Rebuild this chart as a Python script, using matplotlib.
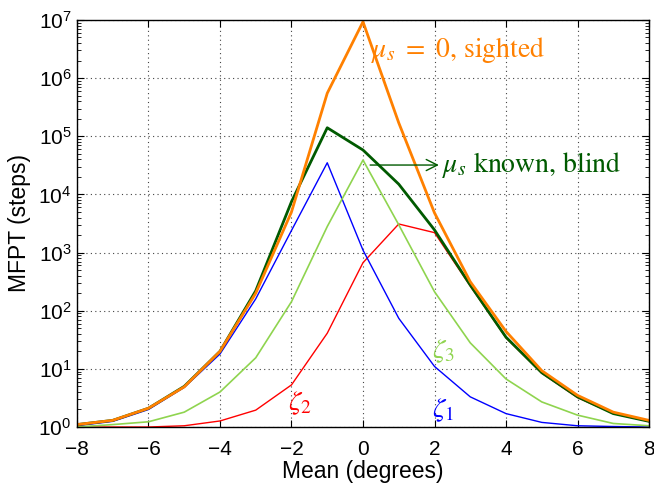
import matplotlib
matplotlib.use("Agg")
import matplotlib.pyplot as plt
from matplotlib.ticker import FixedLocator, LogFormatterSciNotation, NullFormatter

plt.rcParams["font.family"] = ["Liberation Sans", "DejaVu Sans"]
plt.rcParams["mathtext.fontset"] = "stix"

mean_deg = [-8, -7, -6, -5, -4, -3, -2, -1, 0, 1, 2, 3, 4, 5, 6, 7, 8]

# mu_s = 0, sighted
sighted = [1.1, 1.3, 2.1, 4.9, 20, 200, 5000, 5.5e5, 9.3e6, 1.7e5, 4800, 315, 44, 9.3, 3.5, 1.8, 1.3]
# mu_s known, blind
known_blind = [1.1, 1.3, 2.1, 5.0, 20, 220, 7500, 1.4e5, 5.8e4, 1.5e4, 2450, 276, 35, 8.6, 3.3, 1.7, 1.25]
zeta1 = [1.05, 1.25, 2.0, 4.8, 18, 160, 2400, 3.5e4, 1100, 74, 11, 3.3, 1.7, 1.2, 1.05, 1.02, 1.0]
zeta2 = [1.0, 1.0, 1.0, 1.05, 1.27, 1.95, 5.3, 41, 670, 3100, 2200, 265, 34, 8.4, 3.2, 1.7, 1.25]
zeta3 = [1.0, 1.1, 1.23, 1.8, 4.0, 15.5, 143, 2800, 3.9e4, 3000, 212, 28, 6.7, 2.7, 1.6, 1.15, 1.05]

x_ticks = [-8, -6, -4, -2, 0, 2, 4, 6, 8]
y_decades = [0, 1, 2, 3, 4, 5, 6, 7]

fig = plt.figure(figsize=(6.54, 4.87), dpi=100)
ax = fig.add_axes([0.1177, 0.1232, 0.8747, 0.8358])

ax.plot(mean_deg, zeta2, color="#ff0000", lw=1.0)
ax.plot(mean_deg, zeta1, color="#0000ff", lw=1.0)
ax.plot(mean_deg, zeta3, color="#8fd44f", lw=1.2)
ax.plot(mean_deg, known_blind, color="#005a00", lw=2.0)
ax.plot(mean_deg, sighted, color="#ff8000", lw=2.0)

ax.set_yscale("log")
ax.set_xlim(-8, 8)
ax.set_ylim(1, 1e7)
ax.set_xticks(x_ticks)
ax.yaxis.set_major_locator(FixedLocator([10.0 ** d for d in y_decades]))
ax.yaxis.set_major_formatter(LogFormatterSciNotation())
minors = [m * 10.0 ** d for d in y_decades[:-1] for m in range(2, 10)]
ax.yaxis.set_minor_locator(FixedLocator(minors))
ax.yaxis.set_minor_formatter(NullFormatter())
ax.tick_params(which="both", direction="in", top=True, right=True)
ax.tick_params(axis="x", labelsize=15, pad=9)
ax.tick_params(axis="y", labelsize=15, pad=4)
ax.tick_params(which="major", length=5)
ax.tick_params(which="minor", length=3)
ax.grid(True, which="major", linestyle=(0, (1, 3)), color="#444444", lw=0.8)
for sp in ax.spines.values():
    sp.set_linewidth(1.0)

ax.set_xlabel("Mean (degrees)", fontsize=16.5, labelpad=1)
ax.set_ylabel("MFPT (steps)", fontsize=16.5, labelpad=5)

serif = dict(family=["STIXGeneral", "Liberation Serif"], fontsize=20)
ax.text(0.22, 3.0e6, r"$\mu_s\ =\ 0$, sighted", color="#ff8000", va="center", ha="left", **serif)
ax.annotate(r"$\mu_s$ known, blind", xy=(0.2, 3.2e4), xytext=(2.2, 3.2e4),
            color="#005a00", va="center", ha="left",
            arrowprops=dict(arrowstyle="<-", color="#005a00", lw=1.0, shrinkA=0, shrinkB=0),
            **serif)
ax.text(-2.1, 2.6, r"$\zeta_2$", color="#ff0000", ha="left", va="center", **serif)
ax.text(1.93, 1.96, r"$\zeta_1$", color="#0000ff", ha="left", va="center", **serif)
ax.text(1.93, 19.7, r"$\zeta_3$", color="#8fd44f", ha="left", va="center", **serif)

fig.savefig("out.png", dpi=100)
